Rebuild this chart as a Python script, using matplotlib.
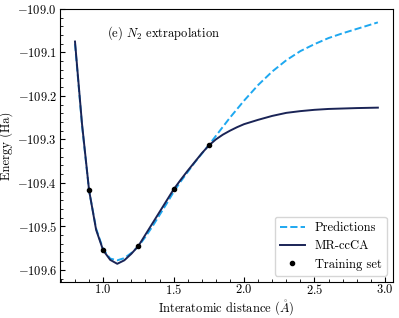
"""N2 extrapolation: predictions vs MR-ccCA energies."""

import matplotlib

matplotlib.use("Agg")
import matplotlib.pyplot as plt
from matplotlib.ticker import AutoMinorLocator

plt.rcParams["font.family"] = "serif"
plt.rcParams["font.serif"] = ["cmr10"]
plt.rcParams["mathtext.fontset"] = "cm"
plt.rcParams["axes.formatter.use_mathtext"] = True
plt.rcParams["font.size"] = 9

# MR-ccCA reference curve
mr_x = [0.80, 0.85, 0.90, 0.95, 1.00, 1.05, 1.10, 1.15, 1.20, 1.25, 1.30, 1.35,
        1.40, 1.45, 1.50, 1.55, 1.60, 1.65, 1.70, 1.75, 1.80, 1.85, 1.90, 1.95,
        2.00, 2.10, 2.20, 2.30, 2.40, 2.50, 2.60, 2.70, 2.80, 2.95]
mr_e = [-109.075, -109.265, -109.417, -109.508, -109.555, -109.577, -109.586,
        -109.578, -109.563, -109.545, -109.519, -109.493, -109.467, -109.441,
        -109.415, -109.393, -109.372, -109.352, -109.332, -109.314, -109.300,
        -109.289, -109.280, -109.272, -109.265, -109.255, -109.246, -109.239,
        -109.235, -109.232, -109.230, -109.229, -109.228, -109.227]

# model predictions
pred_x = [0.80, 0.85, 0.90, 0.95, 1.00, 1.05, 1.10, 1.15, 1.20, 1.25, 1.30, 1.35,
          1.40, 1.45, 1.50, 1.55, 1.60, 1.65, 1.70, 1.75, 1.80, 1.90, 2.00, 2.10,
          2.20, 2.30, 2.40, 2.50, 2.60, 2.70, 2.80, 2.95]
pred_e = [-109.080, -109.268, -109.418, -109.505, -109.553, -109.574, -109.578,
          -109.573, -109.561, -109.546, -109.524, -109.500, -109.474, -109.448,
          -109.421, -109.397, -109.375, -109.353, -109.333, -109.313, -109.292,
          -109.250, -109.211, -109.175, -109.144, -109.118, -109.097, -109.081,
          -109.067, -109.056, -109.046, -109.031]

# training points
train_x = [0.90, 1.00, 1.25, 1.50, 1.75]
train_e = [-109.417, -109.555, -109.545, -109.415, -109.314]

fig = plt.figure(figsize=(3.99, 3.18), dpi=100)
ax = fig.add_axes([0.150, 0.113, 0.835, 0.859])

ax.plot(pred_x, pred_e, "--", color="#1ea8f0", lw=1.4, label="Predictions")
ax.plot(mr_x, mr_e, "-", color="#1a2456", lw=1.4, label="MR-ccCA")
ax.plot(train_x, train_e, "o", color="black", ms=3, label="Training set")

ax.set_ylim(-109.628, -109.0)
ax.set_xlabel(r"Interatomic distance ($\mathring{A}$)", labelpad=1)
ax.set_ylabel("Energy (Ha)", labelpad=3)
ax.text(0.141, 0.912, r"(e) $N_2$ extrapolation", transform=ax.transAxes,
        ha="left", va="center")

ax.xaxis.set_minor_locator(AutoMinorLocator(5))
ax.yaxis.set_minor_locator(AutoMinorLocator(5))
ax.tick_params(which="both", direction="in", pad=2)
ax.tick_params(axis="x", which="both", pad=1)
ax.tick_params(which="major", length=3.5)
ax.tick_params(which="minor", length=2)

ax.legend(loc="lower right")

fig.savefig("out.png", dpi=100)
